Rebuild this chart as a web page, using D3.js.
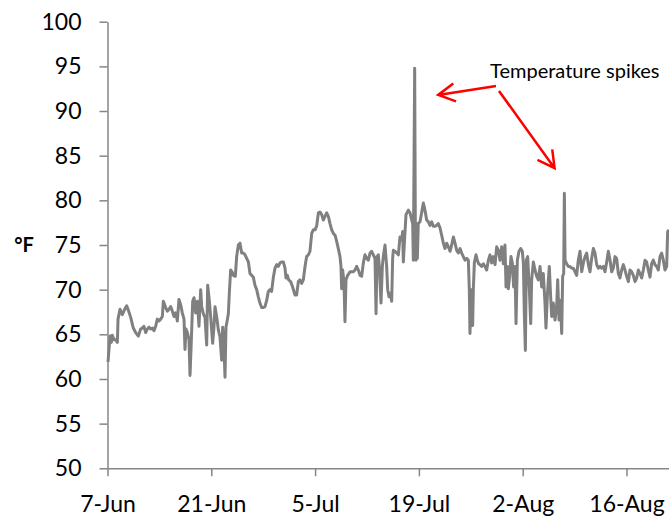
<!DOCTYPE html>
<html lang="en">
  <head>
    <meta charset="utf-8">
    <title>Temperature</title>
    <script type="text/javascript" src="https://d3js.org/d3.v7.min.js"></script>
    <style type="text/css">
      body {
        margin: 0;
        background: #fff;
      }
      .axis path,
      .axis line {
        fill: none;
        stroke: #868686;
        stroke-width: 1.5px;
      }
      .axis text {
        font-family: Lato, "Open Sans", sans-serif;
        font-size: 23px;
        fill: #000;
      }
      .temp-line {
        fill: none;
        stroke: #808080;
        stroke-width: 3px;
        stroke-linejoin: round;
      }
    </style>
  </head>
  <body>
    <script type="text/javascript">
      // days since 7-Jun
      var dayOffsets = [
        0.07, 0.34, 0.52, 0.65, 0.88, 1.10, 1.33, 1.42, 1.69, 2.00, 2.32, 2.59, 2.77, 3.13, 3.48, 3.80,
        4.16, 4.47, 4.70, 4.92, 5.15, 5.37, 5.60, 5.82, 6.05, 6.27, 6.50, 6.72, 6.95, 7.17, 7.40, 7.53,
        7.85, 8.07, 8.30, 8.52, 8.74, 8.97, 9.19, 9.42, 9.64, 9.87, 10.09, 10.32, 10.45, 10.59, 10.77, 10.99,
        11.13, 11.31, 11.49, 11.67, 11.89, 12.12, 12.34, 12.57, 12.70, 12.93, 13.15, 13.38, 13.51, 13.73, 13.91, 14.18,
        14.36, 14.50, 14.72, 14.95, 15.17, 15.40, 15.53, 15.71, 15.85, 15.98, 16.16, 16.30, 16.43, 16.61, 16.79, 16.97,
        17.24, 17.42, 17.65, 17.87, 18.10, 18.32, 18.55, 18.77, 19.00, 19.22, 19.45, 19.67, 19.89, 20.12, 20.34, 20.56,
        20.79, 21.02, 21.24, 21.47, 21.69, 21.92, 22.14, 22.37, 22.59, 22.82, 23.04, 23.27, 23.49, 23.72, 23.94, 24.08,
        24.26, 24.43, 24.70, 24.97, 25.29, 25.51, 25.74, 25.96, 26.19, 26.41, 26.64, 26.86, 27.09, 27.31, 27.54, 27.76,
        27.99, 28.21, 28.44, 28.66, 28.89, 29.11, 29.34, 29.56, 29.79, 30.01, 30.24, 30.46, 30.69, 30.91, 31.13, 31.36,
        31.49, 31.58, 31.72, 31.90, 32.03, 32.17, 32.39, 32.71, 32.93, 33.16, 33.38, 33.61, 33.83, 34.06, 34.28, 34.51,
        34.73, 34.96, 35.18, 35.41, 35.63, 35.85, 36.08, 36.22, 36.35, 36.53, 36.66, 36.89, 37.07, 37.20, 37.43, 37.65,
        37.79, 37.97, 38.15, 38.33, 38.46, 38.55, 38.78, 39.00, 39.23, 39.45, 39.68, 39.81, 39.90, 40.04, 40.26, 40.58,
        40.80, 41.03, 41.16, 41.25, 41.34, 41.43, 41.52, 41.61, 41.70, 41.79, 41.92, 42.15, 42.37, 42.60, 42.82, 43.05,
        43.27, 43.50, 43.72, 43.95, 44.17, 44.40, 44.62, 44.85, 45.07, 45.30, 45.52, 45.75, 45.97, 46.20, 46.42, 46.65,
        46.87, 47.10, 47.32, 47.55, 47.77, 47.99, 48.22, 48.44, 48.67, 48.80, 48.89, 49.03, 49.16, 49.25, 49.34, 49.48,
        49.70, 49.88, 50.06, 50.24, 50.47, 50.69, 50.92, 51.14, 51.37, 51.59, 51.82, 52.04, 52.27, 52.49, 52.72, 52.94,
        53.17, 53.39, 53.61, 53.75, 53.93, 54.06, 54.24, 54.42, 54.60, 54.78, 54.96, 55.10, 55.28, 55.50, 55.73, 55.95,
        56.09, 56.22, 56.36, 56.49, 56.67, 56.90, 57.08, 57.21, 57.44, 57.66, 57.89, 58.11, 58.34, 58.56, 58.78, 59.01,
        59.14, 59.32, 59.46, 59.59, 59.77, 59.91, 60.13, 60.36, 60.58, 60.72, 60.90, 61.08, 61.26, 61.39, 61.53, 61.62,
        61.71, 61.93, 62.16, 62.38, 62.61, 62.83, 63.06, 63.28, 63.50, 63.73, 63.96, 64.18, 64.41, 64.63, 64.86, 65.08,
        65.30, 65.53, 65.75, 65.98, 66.20, 66.43, 66.65, 66.88, 67.10, 67.33, 67.55, 67.78, 68.00, 68.22, 68.45, 68.67,
        68.90, 69.12, 69.35, 69.57, 69.80, 70.02, 70.25, 70.47, 70.70, 70.92, 71.15, 71.37, 71.60, 71.82, 72.05, 72.27,
        72.50, 72.72, 72.94, 73.17, 73.39, 73.62, 73.84, 74.07, 74.29, 74.52, 74.74, 74.97, 75.19, 75.42, 75.55, 75.73
      ];

      // temperature, deg F
      var temps = [
        61.9, 64.8, 64.1, 64.9, 64.4, 64.4, 64.1, 66.7, 67.8, 67.2, 67.8, 68.2, 67.8, 66.9, 65.7, 65.2,
        64.8, 65.6, 65.7, 65.9, 65.2, 65.6, 65.8, 65.6, 65.7, 65.4, 65.9, 66.7, 66.5, 66.7, 67.0, 68.7,
        68.0, 67.6, 67.8, 68.1, 67.6, 67.0, 67.4, 66.5, 68.9, 68.3, 67.4, 66.7, 63.3, 65.6, 65.2, 64.4,
        60.4, 64.4, 68.7, 69.1, 67.4, 68.7, 65.9, 70.0, 68.1, 67.3, 66.9, 63.8, 70.5, 68.8, 67.0, 64.0,
        65.8, 68.1, 67.0, 65.5, 64.7, 62.1, 65.8, 63.6, 60.2, 65.8, 66.6, 67.3, 69.6, 72.2, 72.0, 71.6,
        71.5, 73.7, 75.0, 75.2, 74.1, 74.1, 73.9, 73.5, 73.1, 71.8, 71.6, 71.4, 70.5, 70.0, 69.2, 68.5,
        68.0, 68.0, 68.1, 68.8, 69.8, 70.0, 69.8, 71.4, 72.4, 72.8, 72.6, 73.0, 73.1, 73.1, 72.4, 71.3,
        71.6, 71.1, 70.9, 70.3, 69.4, 69.4, 70.9, 71.1, 70.7, 71.1, 72.6, 73.7, 73.9, 74.3, 76.3, 76.7,
        76.7, 77.1, 78.6, 78.7, 78.4, 77.8, 78.2, 78.6, 78.2, 77.4, 76.7, 76.3, 76.1, 75.4, 74.6, 73.7,
        72.6, 70.1, 72.2, 70.7, 66.4, 71.1, 71.6, 72.0, 72.0, 72.0, 72.2, 72.6, 72.2, 71.6, 71.5, 73.0,
        73.9, 73.5, 73.3, 74.1, 74.3, 73.9, 73.5, 67.3, 73.7, 73.9, 72.6, 68.5, 72.6, 73.7, 75.0, 72.6,
        70.0, 69.2, 69.6, 68.7, 73.5, 74.4, 74.3, 74.1, 73.9, 75.9, 75.6, 76.5, 73.1, 75.2, 78.4, 78.9,
        78.6, 77.8, 77.4, 73.3, 84.0, 94.8, 77.0, 73.3, 77.4, 73.5, 77.4, 77.6, 78.6, 79.7, 78.9, 77.8,
        77.6, 77.2, 77.6, 77.1, 77.1, 77.2, 77.4, 76.9, 76.1, 75.2, 74.6, 75.2, 74.8, 74.3, 75.0, 75.9,
        75.2, 74.4, 74.1, 74.6, 74.1, 73.7, 73.3, 73.5, 73.3, 70.0, 65.1, 70.0, 67.7, 66.0, 70.0, 73.0,
        73.9, 73.3, 72.9, 72.8, 72.6, 72.9, 72.6, 72.2, 73.3, 73.9, 73.0, 73.7, 72.8, 74.8, 74.4, 73.3,
        74.8, 72.9, 75.0, 70.3, 72.6, 70.1, 71.5, 73.7, 73.0, 70.3, 72.6, 66.2, 73.3, 74.3, 74.6, 74.3,
        73.0, 67.3, 63.2, 73.3, 73.7, 70.0, 66.2, 71.1, 73.1, 72.2, 71.5, 71.1, 72.6, 70.3, 71.8, 68.5,
        65.7, 69.2, 71.1, 72.6, 69.2, 67.0, 68.5, 66.6, 68.1, 71.1, 66.6, 68.8, 65.1, 71.5, 71.8, 80.8,
        73.3, 72.9, 72.6, 72.6, 72.4, 72.4, 72.0, 71.6, 73.3, 74.3, 72.0, 73.0, 73.7, 74.1, 72.8, 72.0,
        73.5, 74.6, 74.1, 72.8, 72.4, 72.6, 72.4, 72.6, 72.0, 73.1, 74.3, 73.3, 72.0, 72.4, 73.7, 73.5,
        71.8, 71.3, 72.2, 72.8, 72.2, 71.5, 70.9, 72.2, 72.0, 71.6, 70.9, 71.3, 72.2, 71.8, 71.3, 72.2,
        73.3, 73.1, 72.2, 71.4, 72.9, 73.3, 72.8, 72.6, 72.2, 73.7, 74.1, 73.3, 72.2, 72.6, 76.5, 76.7
      ];

      var tickLabels = ["7-Jun", "21-Jun", "5-Jul", "19-Jul", "2-Aug", "16-Aug"];
      var yTicks = [50, 55, 60, 65, 70, 75, 80, 85, 90, 95, 100];

      // arrows from the label to the two spikes, in data units (day offset, deg F)
      var noteText = "Temperature spikes";
      var noteAnchor = [51.6, 93.7];
      var arrows = [
        {from: [52.4, 92.8], to: [44.6, 91.8]},
        {from: [52.8, 92.25], to: [60.3, 83.6]}
      ];

      var width = 669,
          height = 516;

      var start = new Date(2012, 5, 7);
      function dayToDate(d) { return new Date(start.getTime() + d * 864e5); }

      var data = dayOffsets.map(function(d, i) {
        return {date: dayToDate(d), temp: temps[i]};
      });

      var svg = d3.select("body").append("svg")
        .attr("width", width)
        .attr("height", height);

      var x = d3.scaleTime()
        .domain([start, dayToDate(75.8)])
        .range([107.5, 669.5]);

      var y = d3.scaleLinear()
        .domain([50, 100])
        .range([468.3, 21.7]);

      var tickDates = tickLabels.map(function(t) {
        return d3.timeParse("%d-%b-%Y")(t + "-2012");
      });

      var xAxis = d3.axisBottom(x)
        .tickValues(tickDates)
        .tickFormat(function(d, i) { return tickLabels[i]; })
        .tickSize(8)
        .tickSizeOuter(0)
        .tickPadding(19);

      var yAxis = d3.axisLeft(y)
        .tickValues(yTicks)
        .tickSize(8)
        .tickSizeOuter(0)
        .tickPadding(18);

      svg.append("g")
        .attr("class", "x axis")
        .attr("transform", "translate(0," + y(50) + ")")
        .call(xAxis);

      svg.append("g")
        .attr("class", "y axis")
        .attr("transform", "translate(" + x(start) + ",0)")
        .call(yAxis);

      svg.append("text")
        .attr("x", 24)
        .attr("y", y(75))
        .attr("dy", "0.35em")
        .attr("text-anchor", "middle")
        .style("font-family", "Lato, 'Open Sans', sans-serif")
        .style("font-weight", "bold")
        .style("font-size", "20px")
        .text("\u00b0F");

      var line = d3.line()
        .x(function(d) { return x(d.date); })
        .y(function(d) { return y(d.temp); });

      svg.append("path")
        .datum(data)
        .attr("class", "temp-line")
        .attr("d", line);

      // annotation
      svg.append("text")
        .attr("x", x(dayToDate(noteAnchor[0])))
        .attr("y", y(noteAnchor[1]))
        .style("font-family", "Lato, 'Open Sans', sans-serif")
        .style("font-size", "20px")
        .text(noteText);

      arrows.forEach(function(a) {
        var x1 = x(dayToDate(a.from[0])), y1 = y(a.from[1]),
            x2 = x(dayToDate(a.to[0])), y2 = y(a.to[1]);
        var ang = Math.atan2(y1 - y2, x1 - x2),
            len = 19, spread = 0.5;
        var head = "M" + (x2 + len * Math.cos(ang - spread)) + "," + (y2 + len * Math.sin(ang - spread)) +
          "L" + x2 + "," + y2 +
          "L" + (x2 + len * Math.cos(ang + spread)) + "," + (y2 + len * Math.sin(ang + spread));
        svg.append("path")
          .attr("d", "M" + x1 + "," + y1 + "L" + x2 + "," + y2 + head)
          .attr("fill", "none")
          .attr("stroke", "#ff0000")
          .attr("stroke-width", 2.5)
          .attr("stroke-linejoin", "miter");
      });
    </script>
  </body>
</html>
